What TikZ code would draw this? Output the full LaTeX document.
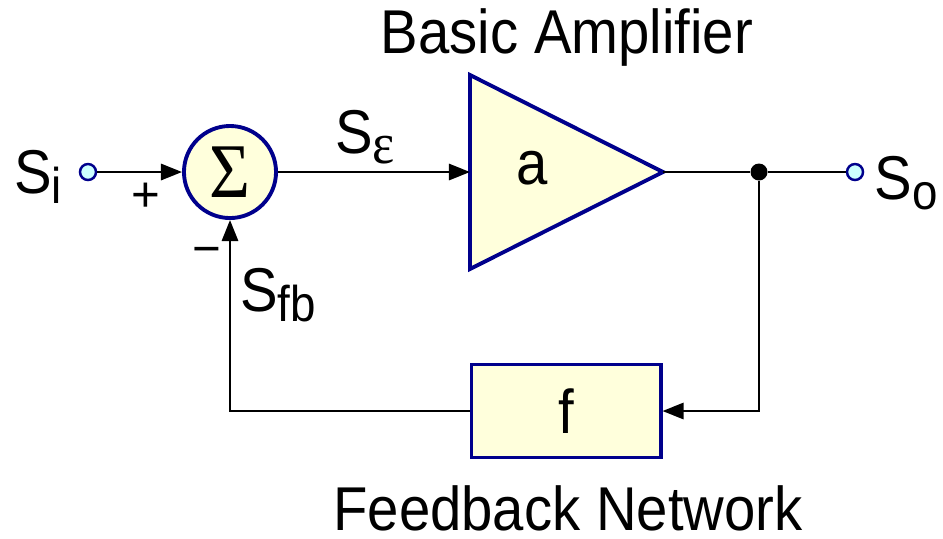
\documentclass[tikz,border=0pt]{standalone}
\usepackage{fontspec}
\setmainfont{Liberation Sans}
\newfontfamily\greekfont{Liberation Serif}
\usetikzlibrary{arrows.meta}
\definecolor{navyedge}{RGB}{0,0,140}
\definecolor{blockfill}{RGB}{255,255,220}
\definecolor{portfill}{RGB}{204,255,255}
\newcommand{\tall}[1]{\scalebox{1}[1.1]{#1}}
\newcommand{\sig}[1]{\tall{S\raisebox{-2.5pt}{\fontsize{13}{15}\selectfont #1}}}
\tikzset{
  wire/.style={line width=0.75pt},
  feed/.style={wire, -{Triangle[length=6pt,width=4.6pt]}},
  block/.style={draw=navyedge, line width=1.1pt, fill=blockfill},
  port/.style={circle, draw=navyedge, line width=0.7pt, fill=portfill, minimum size=0.16cm, inner sep=0pt},
  lbl/.style={inner sep=0pt, font=\fontsize{16}{19}\selectfont},
}

\begin{document}
\begin{tikzpicture}[x=0.01cm, y=-0.01cm]
\useasboundingbox (0,0) rectangle (943,538);
% terminals, summing point and blocks
\node[port] (si) at (88,172) {};
\node[port] (so) at (855,172) {};
\node[block, circle, minimum size=0.92cm, inner sep=0pt] (sum) at (230,172) {\fontsize{20}{22}\selectfont\greekfont\tall{Σ}};
\draw[block] (470,75) -- (663,172) -- (470,269) -- cycle; % amplifier
\coordinate (amp-in) at (470,172);
\coordinate (amp-out) at (663,172);
\node[lbl] (gain) at (532,168) {\tall{a}};
\node[block, minimum width=1.89cm, minimum height=0.93cm, inner sep=0pt, font=\fontsize{16}{19}\selectfont] (fb) at (566,411) {\tall{f}};
\node[circle, fill, minimum size=0.17cm, inner sep=0pt] (tap) at (759,172) {};
% signal paths
\draw[feed] (si) -- (sum);
\draw[feed] (sum) -- (amp-in);
\draw[wire] (amp-out) -- (tap) -- (so);
\draw[feed] (tap) |- (fb);
\draw[feed] (fb) -| (sum);
% labels
\node[lbl] (si-lbl) at (38,177) {\sig{i}};
\node[lbl] (so-lbl) at (906,183) {\sig{o}};
\node[lbl] (se-lbl) at (365,137) {\sig{\fontsize{15}{17}\selectfont\greekfont ε}};
\node[lbl] (sfb-lbl) at (278,295) {\sig{fb}};
\node[lbl] (plus) at (146,197) {\fontsize{14}{16}\selectfont +};
\node[lbl] (minus) at (207,256) {\fontsize{14}{16}\selectfont \symbol{"2212}};
\node[lbl] (amp-title) at (567,37) {\tall{Basic Amplifier}};
\node[lbl] (fb-title) at (568,508) {\tall{Feedback Network}};
\end{tikzpicture}
\end{document}
